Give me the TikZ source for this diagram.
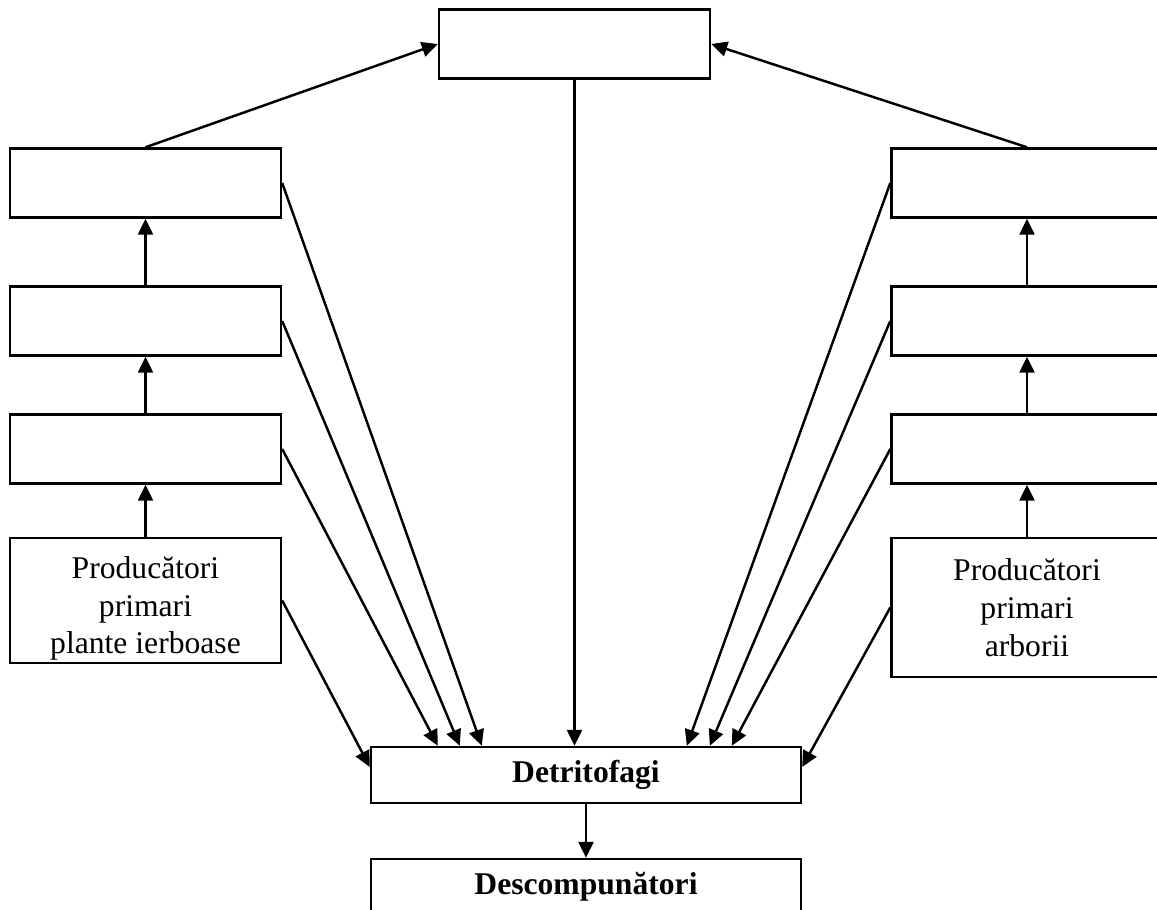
\documentclass[tikz,border=0pt]{standalone}
\usepackage{fontspec}
\setmainfont{Liberation Serif}
\usetikzlibrary{arrows.meta, calc}
\tikzstyle{level} = [rectangle, minimum width=5.42cm, minimum height=1.38cm, text centered, align=center, inner sep=0pt, draw=black, line width=1.4pt]
\tikzstyle{sink} = [rectangle, minimum width=8.6cm, minimum height=1.12cm, text centered, inner sep=0pt, draw=black, line width=1.4pt, font=\fontsize{18}{22}\selectfont\bfseries]
\tikzstyle{arrow} = [line width=1.4pt, -{Triangle[length=0.32cm, width=0.3cm]}]

\begin{document}
\begin{tikzpicture}[x=0.02cm, y=-0.02cm, font=\fontsize{18}{21.5}\selectfont]
\useasboundingbox (0,0) rectangle (1157,910);

% Nodes
\node (top) [level] at (574.5,44) {};
\node (left1) [level] at (145.5,183) {};
\node (left2) [level] at (145.5,321) {};
\node (left3) [level] at (145.5,449) {};
\node (herbs) [level, minimum height=2.5cm, label={[align=center, yshift=-0.16cm]center:Producători\\primari\\plante ierboase}] at (145.5,600.5) {};
\node (right1) [level] at (1027,183) {};
\node (right2) [level] at (1027,321) {};
\node (right3) [level] at (1027,449) {};
\node (trees) [level, minimum height=2.78cm] at (1027,607.5) {Producători\\primari\\arborii};
\node (det) [sink] at (586,775) {Detritofagi};
\node (dec) [sink] at (586,887) {Descompunători};

% Arrows up the chains
\draw [arrow] (herbs) -- (left3);
\draw [arrow] (left3) -- (left2);
\draw [arrow] (left2) -- (left1);
\draw [arrow] (trees) -- (right3);
\draw [arrow] (right3) -- (right2);
\draw [arrow] (right2) -- (right1);
\draw [arrow] (left1.north) -- (top.west);
\draw [arrow] (right1.north) -- (top.east);

% Arrows to detritofagi
\draw [arrow] (top.south) -- (top.south |- det.north);
\draw [arrow] (left1.east) -- ($(det.north west)+(112,0)$);
\draw [arrow] (left2.east) -- ($(det.north west)+(90,0)$);
\draw [arrow] (left3.east) -- ($(det.north west)+(68,0)$);
\draw [arrow] (herbs.east) -- ($(det.west)+(0,-8)$);
\draw [arrow] (right1.west) -- ($(det.north west)+(317,0)$);
\draw [arrow] (right2.west) -- ($(det.north west)+(340,0)$);
\draw [arrow] (right3.west) -- ($(det.north west)+(362,0)$);
\draw [arrow] (trees.west) -- ($(det.east)+(0,-8)$);
\draw [arrow] (det) -- (dec);

\end{tikzpicture}
\end{document}
